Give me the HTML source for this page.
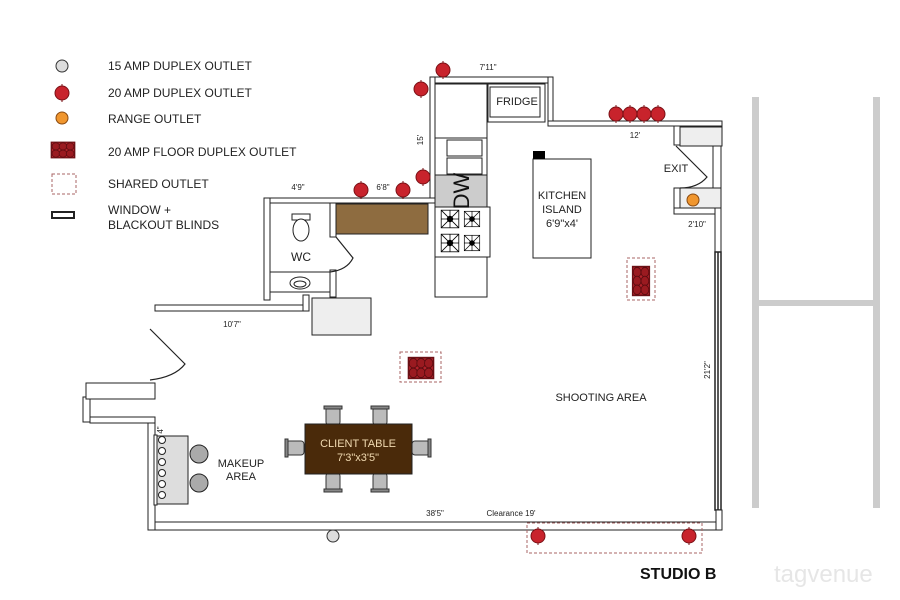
<!DOCTYPE html>
<html><head><meta charset="utf-8"><style>
body{margin:0;background:#fff}
svg{display:block;font-family:"Liberation Sans",Arial,sans-serif}
</style></head><body>
<svg width="900" height="600" viewBox="0 0 900 600">
<defs>
<g id="red"><circle r="7" fill="#c8232c" stroke="#7a1015" stroke-width="1"/><line x1="0" y1="-9" x2="0" y2="-7" stroke="#7a1015"/><line x1="0" y1="7" x2="0" y2="9" stroke="#7a1015"/></g>
<g id="fl"><rect x="-9" y="-6.5" width="18" height="13" fill="#b5222a" stroke="#6b1015"/><g fill="#9a1a20" stroke="#5a0c10" stroke-width=".6"><circle cx="-5.5" cy="-3" r="3"/><circle cx="0" cy="-3" r="3"/><circle cx="5.5" cy="-3" r="3"/><circle cx="-5.5" cy="3" r="3"/><circle cx="0" cy="3" r="3"/><circle cx="5.5" cy="3" r="3"/></g></g>
<g id="burner"><rect x="-11" y="-11" width="22" height="22" fill="#fff" stroke="#000"/><line x1="-11" y1="-11" x2="11" y2="11" stroke="#000"/><line x1="11" y1="-11" x2="-11" y2="11" stroke="#000"/><line x1="0" y1="-11" x2="0" y2="11" stroke="#000"/><line x1="-11" y1="0" x2="11" y2="0" stroke="#000"/><circle r="4" fill="#000"/></g>
<g id="chairV"><rect x="-7" y="-9" width="14" height="18" rx="3" fill="#bbb" stroke="#333"/><rect x="-9" y="-10" width="18" height="3" fill="#888" stroke="#333"/></g>
</defs>
<g fill="#222" font-size="12">
<circle cx="62" cy="66" r="6" fill="#ddd" stroke="#333"/>
<text x="108" y="70">15 AMP DUPLEX OUTLET</text>
<use href="#red" x="62" y="93"/>
<text x="108" y="97">20 AMP DUPLEX OUTLET</text>
<circle cx="62" cy="118" r="6" fill="#f0962e" stroke="#8a4a10"/>
<text x="108" y="123">RANGE OUTLET</text>
<g transform="translate(63 150) scale(1.3 1.2)"><use href="#fl"/></g>
<text x="108" y="156">20 AMP FLOOR DUPLEX OUTLET</text>
<rect x="52" y="174" width="24" height="20" fill="none" stroke="#a66" stroke-dasharray="3,2"/>
<text x="108" y="188">SHARED OUTLET</text>
<rect x="52" y="212" width="22" height="6" fill="#fff" stroke="#222" stroke-width="2"/>
<text x="108" y="214">WINDOW +</text>
<text x="108" y="229">BLACKOUT BLINDS</text>
</g>
<g fill="#fff" stroke="#222" stroke-width="1">
<rect x="430" y="77" width="118" height="6"/>
<rect x="430" y="77" width="5" height="126"/>
<rect x="264" y="198" width="171" height="5"/>
<rect x="264" y="198" width="6" height="102"/>
<rect x="548" y="77" width="5" height="49"/>
<rect x="548" y="121" width="174" height="5"/>
<rect x="155" y="305" width="154" height="6"/>
<rect x="303" y="295" width="6" height="16"/>
<rect x="330" y="203" width="6" height="34"/>
<rect x="330" y="270" width="6" height="27"/>
<line x1="270" y1="272" x2="330" y2="272"/>
<line x1="270" y1="292" x2="330" y2="292"/>
<rect x="312" y="298" width="59" height="37" fill="#eee"/>
<rect x="435" y="84" width="52" height="213"/>
<rect x="435" y="138" width="52" height="37"/>
<rect x="447" y="140" width="35" height="16"/>
<rect x="447" y="158" width="35" height="16"/>
<rect x="435" y="175" width="52" height="32" fill="#ccc"/>
<rect x="435" y="207" width="55" height="50"/>
<rect x="435" y="257" width="52" height="40"/>
<rect x="488" y="84" width="57" height="38"/>
<rect x="490" y="87" width="50" height="30"/>
<rect x="336" y="204" width="92" height="30" fill="#8e6c40"/>
<rect x="674" y="126" width="6" height="19"/>
<rect x="680" y="127" width="42" height="19" fill="#eee"/>
<rect x="713" y="146" width="8" height="42"/>
<rect x="680" y="188" width="41" height="20" fill="#eee"/>
<rect x="674" y="188" width="6" height="26"/>
<rect x="674" y="208" width="41" height="6"/>
<rect x="715" y="208" width="6" height="44"/>
<rect x="715" y="252" width="6" height="258" stroke-width="1.5"/>
<line x1="718" y1="252" x2="718" y2="510" stroke-width="1.5"/>
<rect x="148" y="522" width="574" height="8"/>
<rect x="716" y="510" width="6" height="20"/>
<rect x="148" y="417" width="7" height="113"/>
<rect x="90" y="417" width="65" height="6"/>
<rect x="83" y="397" width="7" height="25"/>
<rect x="86" y="383" width="69" height="16"/>
<rect x="533" y="159" width="58" height="99"/>
</g>
<rect x="533" y="151" width="12" height="8" fill="#000"/>
<g fill="none" stroke="#222" stroke-width="1.2">
<path d="M150 329 L185 364 Q175 377 150 380"/>
<path d="M336 237 L353 258 Q347 270 330 272"/>
<path d="M676 146 L707 177 Q698 188 680 188"/>
</g>
<g fill="#fff" stroke="#222">
<rect x="292" y="214" width="18" height="6"/>
<ellipse cx="301" cy="230" rx="8" ry="11"/>
<ellipse cx="300" cy="283" rx="10" ry="6"/>
<ellipse cx="300" cy="284" rx="6" ry="3"/>
</g>
<g transform="translate(450 219) scale(.8)"><use href="#burner"/></g>
<g transform="translate(472 219) scale(.7)"><use href="#burner"/></g>
<g transform="translate(450 243) scale(.8)"><use href="#burner"/></g>
<g transform="translate(472 243) scale(.7)"><use href="#burner"/></g>
<text transform="translate(469 191) rotate(-90)" font-size="22" text-anchor="middle" fill="#111">DW</text>
<use href="#chairV" x="333" y="416"/>
<use href="#chairV" x="380" y="416"/>
<g transform="translate(333 482) rotate(180)"><use href="#chairV"/></g>
<g transform="translate(380 482) rotate(180)"><use href="#chairV"/></g>
<g transform="translate(295 448) rotate(-90)"><use href="#chairV"/></g>
<g transform="translate(421 448) rotate(90)"><use href="#chairV"/></g>
<rect x="305" y="424" width="107" height="50" fill="#4a2a0a" stroke="#222"/>
<text x="358" y="447" fill="#f0d9b0" font-size="11" text-anchor="middle">CLIENT TABLE</text>
<text x="358" y="461" fill="#f0d9b0" font-size="11" text-anchor="middle">7'3"x3'5"</text>
<rect x="157" y="436" width="31" height="68" fill="#ddd" stroke="#222"/>
<rect x="154" y="435" width="3" height="70" fill="#fff" stroke="#222"/>
<g fill="#fff" stroke="#222"><circle cx="162" cy="440" r="3.5"/><circle cx="162" cy="451" r="3.5"/><circle cx="162" cy="462" r="3.5"/><circle cx="162" cy="473" r="3.5"/><circle cx="162" cy="484" r="3.5"/><circle cx="162" cy="495" r="3.5"/></g>
<circle cx="199" cy="454" r="9" fill="#aaa" stroke="#222"/>
<circle cx="199" cy="483" r="9" fill="#aaa" stroke="#222"/>
<use href="#red" x="443" y="70"/><use href="#red" x="421" y="89"/>
<use href="#red" x="423" y="177"/><use href="#red" x="361" y="190"/><use href="#red" x="403" y="190"/>
<use href="#red" x="616" y="114"/><use href="#red" x="630" y="114"/><use href="#red" x="644" y="114"/><use href="#red" x="658" y="114"/>
<use href="#red" x="538" y="536"/><use href="#red" x="689" y="536"/>
<circle cx="693" cy="200" r="6" fill="#f0962e" stroke="#8a4a10"/>
<circle cx="333" cy="536" r="6" fill="#ddd" stroke="#333"/>
<rect x="627" y="258" width="28" height="42" fill="none" stroke="#a66" stroke-dasharray="3,2"/>
<g transform="translate(641 281) rotate(90) scale(1.6 1.3)"><use href="#fl"/></g>
<rect x="400" y="352" width="41" height="30" fill="none" stroke="#a66" stroke-dasharray="3,2"/>
<g transform="translate(421 368) scale(1.4 1.6)"><use href="#fl"/></g>
<rect x="527" y="523" width="175" height="30" fill="none" stroke="#a66" stroke-dasharray="3,2"/>
<g fill="#ccc"><rect x="752" y="97" width="7" height="411"/><rect x="873" y="97" width="7" height="411"/><rect x="752" y="300" width="128" height="6"/></g>
<g fill="#222" font-size="11" text-anchor="middle">
<text x="517" y="105">FRIDGE</text>
<text x="562" y="199">KITCHEN</text><text x="562" y="213">ISLAND</text><text x="562" y="227">6'9"x4'</text>
<text x="676" y="172">EXIT</text>
<text x="301" y="261" font-size="12">WC</text>
<text x="241" y="467">MAKEUP</text><text x="241" y="480">AREA</text>
<text x="601" y="401">SHOOTING AREA</text>
<g font-size="8"><text x="488" y="70">7'11"</text><text x="635" y="138">12'</text><text x="298" y="190">4'9"</text><text x="383" y="190">6'8"</text>
<text x="232" y="327">10'7"</text><text x="697" y="227">2'10"</text><text x="435" y="516">38'5"</text><text x="511" y="516">Clearance 19'</text>
<text transform="translate(423 140) rotate(-90)">15'</text>
<text transform="translate(710 370) rotate(-90)">21'2"</text>
<text transform="translate(163 430) rotate(-90)">4"</text></g>
</g>
<text x="640" y="579" font-size="16" font-weight="bold" fill="#111">STUDIO B</text>
<text x="774" y="582" font-size="24" fill="#e6e6e6">tagvenue</text>
</svg>
</body></html>
